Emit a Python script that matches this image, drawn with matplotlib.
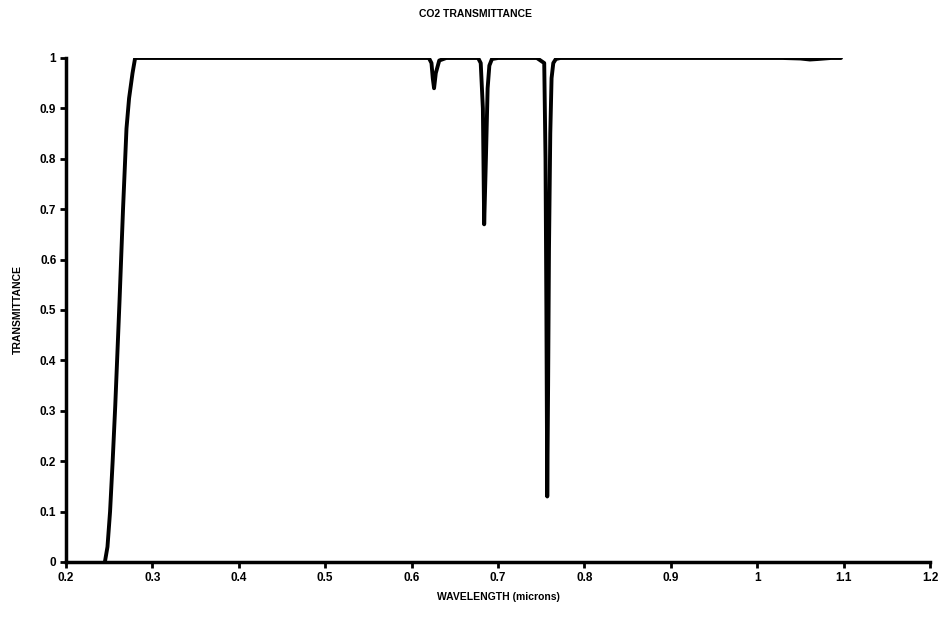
import matplotlib
matplotlib.use("Agg")
import matplotlib.pyplot as plt

wavelength = [0.245, 0.248, 0.251, 0.254, 0.257, 0.262, 0.266, 0.270, 0.273, 0.277, 0.280,
              0.40, 0.55, 0.620, 0.623, 0.6245, 0.626, 0.628, 0.632, 0.640,
              0.677, 0.680, 0.6825, 0.684, 0.686, 0.688, 0.690, 0.693, 0.700,
              0.745, 0.7535, 0.755, 0.756, 0.757, 0.758, 0.759, 0.7605, 0.762, 0.764, 0.767, 0.772,
              0.90, 1.03, 1.050, 1.061, 1.070, 1.085, 1.097]
transmittance = [0.0, 0.03, 0.10, 0.20, 0.31, 0.52, 0.70, 0.86, 0.92, 0.97, 1.0,
                 1.0, 1.0, 1.0, 0.99, 0.96, 0.94, 0.97, 0.995, 1.0,
                 1.0, 0.99, 0.90, 0.67, 0.80, 0.94, 0.985, 0.998, 1.0,
                 1.0, 0.99, 0.80, 0.50, 0.13, 0.35, 0.62, 0.85, 0.96, 0.99, 0.998, 1.0,
                 1.0, 1.0, 0.999, 0.997, 0.998, 1.0, 1.0]

xticks = [0.2, 0.3, 0.4, 0.5, 0.6, 0.7, 0.8, 0.9, 1.0, 1.1, 1.2]
xticklabels = ["0.2", "0.3", "0.4", "0.5", "0.6", "0.7", "0.8", "0.9", "1", "1.1", "1.2"]
yticks = [0, 0.1, 0.2, 0.3, 0.4, 0.5, 0.6, 0.7, 0.8, 0.9, 1.0]
yticklabels = ["0", "0.1", "0.2", "0.3", "0.4", "0.5", "0.6", "0.7", "0.8", "0.9", "1"]

plt.rcParams['font.family'] = ['Liberation Sans', 'DejaVu Sans']
fig = plt.figure(figsize=(9.47, 6.19), dpi=100)
ax = fig.add_axes([66/947, 57/619, (930-66)/947, (562-58)/619])
ax.plot(wavelength, transmittance, color='black', linewidth=2.8, solid_joinstyle='round', solid_capstyle='round')
ax.set_xlim(0.2, 1.2)
ax.set_ylim(0, 1)
ax.set_xticks(xticks)
ax.set_xticklabels(xticklabels, fontsize=8.5, fontweight='bold')
ax.set_yticks(yticks)
ax.set_yticklabels(yticklabels, fontsize=8.5, fontweight='bold')
for s in ['top', 'right']:
    ax.spines[s].set_visible(False)
for s in ['left', 'bottom']:
    ax.spines[s].set_linewidth(2.5)
ax.tick_params(axis='both', direction='out', length=4, width=2, pad=3)
ax.set_xlabel("WAVELENGTH (microns)", fontsize=7.5, fontweight='bold', labelpad=6)
ax.set_ylabel("TRANSMITTANCE", fontsize=7.5, fontweight='bold', labelpad=12)
fig.text(475/947, 1 - 14/619, "CO2 TRANSMITTANCE", ha='center', va='center', fontsize=7.5, fontweight='bold')
fig.savefig("out.png", dpi=100)
